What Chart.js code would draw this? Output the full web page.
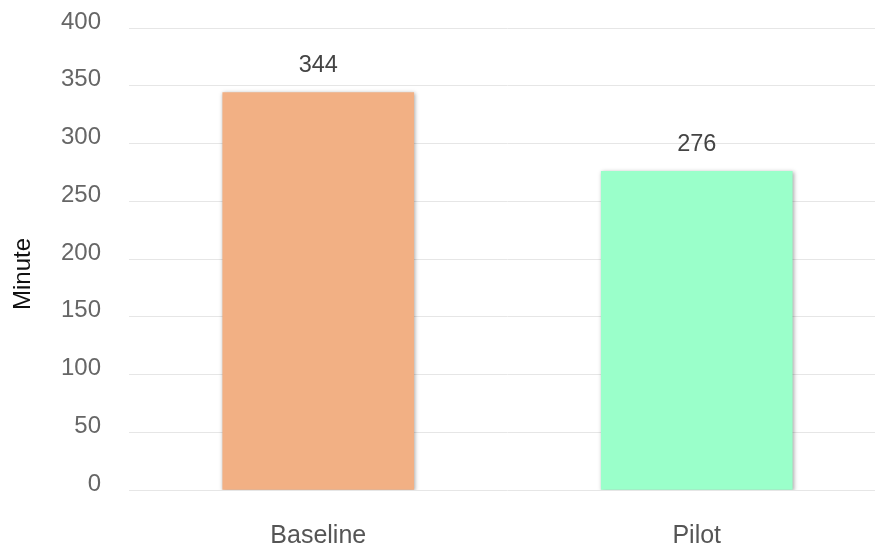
<!DOCTYPE html>
<html>
<head>
<meta charset="utf-8">
<script src="https://cdn.jsdelivr.net/npm/chart.js@4"></script>
<style>
    html, body { margin: 0; padding: 0; background: #fff; overflow: hidden; }
    #wrap { width: 886px; height: 548px; }
</style>
</head>
<body>
<div id="wrap"><canvas id="chart"></canvas></div>
<script>
const categories = ['Baseline', 'Pilot'];
const minutes = [344, 276];
const barColors = ['#f2b084', '#9affca'];
const yTicks = [0, 50, 100, 150, 200, 250, 300, 350, 400];
const yTitle = 'Minute';

const FONT = "'Liberation Sans', Arial, sans-serif";

// shadow under the bars, value labels above them, y title centred on the canvas
const barExtras = {
    id: 'barExtras',
    beforeDatasetsDraw(chart) {
        const ctx = chart.ctx;
        ctx.save();
        ctx.shadowColor = 'rgba(0,0,0,0.35)';
        ctx.shadowBlur = 4;
        ctx.shadowOffsetX = 1;
        ctx.shadowOffsetY = 1;
    },
    afterDatasetsDraw(chart) {
        const ctx = chart.ctx;
        ctx.restore();
        ctx.save();
        ctx.font = '23.5px ' + FONT;
        ctx.fillStyle = '#444';
        ctx.textAlign = 'center';
        ctx.textBaseline = 'middle';
        chart.getDatasetMeta(0).data.forEach((bar, i) => {
            ctx.fillText(String(minutes[i]), bar.x, bar.y - 27);
        });
        ctx.restore();

        ctx.save();
        ctx.translate(23, chart.height / 2);
        ctx.rotate(-Math.PI / 2);
        ctx.font = '24px ' + FONT;
        ctx.fillStyle = '#111';
        ctx.textAlign = 'center';
        ctx.textBaseline = 'middle';
        ctx.fillText(yTitle, 0, 0);
        ctx.restore();
    }
};

new Chart(document.getElementById('chart'), {
    type: 'bar',
    data: {
        labels: categories,
        datasets: [{
            label: yTitle,
            data: minutes,
            backgroundColor: barColors,
            borderWidth: 0,
            barThickness: 191
        }]
    },
    options: {
        responsive: true,
        maintainAspectRatio: false,
        animation: false,
        layout: { padding: { top: 28, right: 0, left: 0, bottom: 0 } },
        plugins: {
            legend: { display: false },
            tooltip: { enabled: false }
        },
        scales: {
            x: {
                grid: { display: false, drawTicks: false },
                border: { display: false },
                ticks: { color: '#555', font: { family: FONT, size: 25 }, padding: 31 },
                afterFit(scale) { scale.height = 58; }
            },
            y: {
                min: 0,
                max: 400,
                afterBuildTicks(scale) { scale.ticks = yTicks.map(v => ({ value: v })); },
                grid: { color: '#e6e6e6', lineWidth: 1, drawTicks: false },
                border: { display: false },
                ticks: { color: '#666', font: { family: FONT, size: 24 }, padding: 28, labelOffset: -6 },
                afterFit(scale) {
                    scale.width = 129;
                    scale.paddingTop = 0;
                    scale.paddingBottom = 0;
                }
            }
        }
    },
    plugins: [barExtras]
});
</script>
</body>
</html>
